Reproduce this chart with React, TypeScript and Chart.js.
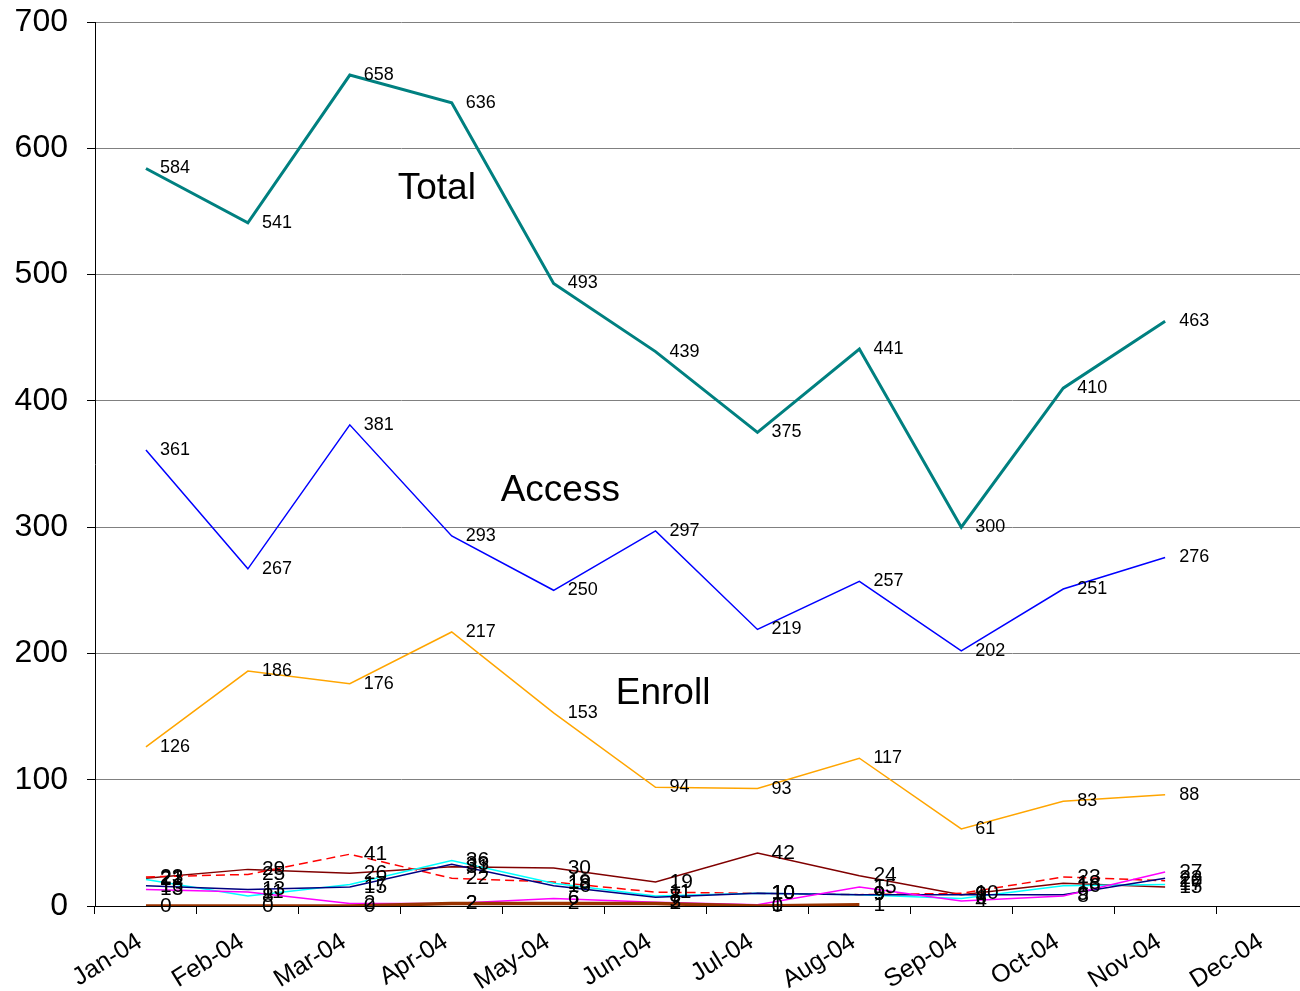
import React, { useEffect, useRef } from "react";
import { Chart, registerables } from "chart.js";

Chart.register(...registerables);

const months = ["Jan-04", "Feb-04", "Mar-04", "Apr-04", "May-04", "Jun-04", "Jul-04", "Aug-04", "Sep-04", "Oct-04", "Nov-04", "Dec-04"];

const totalValues = [584, 541, 658, 636, 493, 439, 375, 441, 300, 410, 463];
const accessValues = [361, 267, 381, 293, 250, 297, 219, 257, 202, 251, 276];
const enrollValues = [126, 186, 176, 217, 153, 94, 93, 117, 61, 83, 88];
const darkRedValues = [22, 29, 26, 31, 30, 19, 42, 24, 9, 18, 15];
const redDashValues = [23, 25, 41, 22, 19, 11, 10, 9, 10, 23, 20];
const cyanValues = [21, 8, 17, 36, 18, 8, 10, 9, 6, 16, 17];
const navyValues = [16, 13, 15, 33, 16, 7, 10, 9, 9, 9, 22];
const magentaValues = [13, 11, 2, 2, 6, 3, 1, 15, 4, 8, 27];
const brownValues = [0, 0, 0, 2, 2, 2, 0, 1];

const yTicks = [0, 100, 200, 300, 400, 500, 600, 700];

const annotationTexts = ["Total", "Access", "Enroll"];
const annotationX = [2.47, 3.48, 4.61];
const annotationY = [568, 329, 168];

const FONT = '"Liberation Sans", Arial, sans-serif';

export default function App() {
  const canvasRef = useRef<HTMLCanvasElement | null>(null);

  useEffect(() => {
    const canvas = canvasRef.current;
    if (!canvas) return;

    const labelSizes: number[] = [];

    const pointLabels = {
      id: "pointLabels",
      afterDatasetsDraw(chart: any) {
        const ctx = chart.ctx;
        chart.data.datasets.forEach((ds: any, i: number) => {
          const meta = chart.getDatasetMeta(i);
          ctx.save();
          ctx.font = `${labelSizes[i]}px ${FONT}`;
          ctx.fillStyle = "#000";
          ctx.textAlign = "left";
          ctx.textBaseline = "middle";
          meta.data.forEach((pt: any, j: number) => {
            const v = ds.data[j];
            if (v === null || v === undefined) return;
            ctx.fillText(String(v), pt.x + 14, pt.y);
          });
          ctx.restore();
        });
        const xs = chart.scales.x;
        const ys = chart.scales.y;
        ctx.save();
        ctx.font = `37px ${FONT}`;
        ctx.fillStyle = "#000";
        ctx.textAlign = "left";
        ctx.textBaseline = "middle";
        annotationTexts.forEach((t, k) => {
          ctx.fillText(t, xs.getPixelForValue(annotationX[k]), ys.getPixelForValue(annotationY[k]));
        });
        ctx.restore();
      },
    };

    const mk = (data: number[], color: string, width: number, size: number, dash?: number[]) => {
      labelSizes.push(size);
      return {
        data,
        borderColor: color,
        backgroundColor: color,
        borderWidth: width,
        borderDash: dash || [],
        pointRadius: 0,
        tension: 0,
        fill: false,
      };
    };

    const datasets = [
      mk(brownValues, "#993300", 3.5, 21),
      mk(magentaValues, "#FF00FF", 1.5, 21),
      mk(navyValues, "#000080", 1.5, 21),
      mk(cyanValues, "#00FFFF", 1.5, 21),
      mk(redDashValues, "#FF0000", 1.5, 21, [9, 5]),
      mk(darkRedValues, "#800000", 1.5, 21),
      mk(enrollValues, "#FFA500", 1.5, 18),
      mk(accessValues, "#0000FF", 1.5, 18),
      mk(totalValues, "#008080", 3, 18),
    ];

    const chart = new Chart(canvas, {
      type: "line",
      data: { labels: months, datasets: datasets as any },
      options: {
        responsive: false,
        animation: false,
        devicePixelRatio: 1,
        layout: { padding: { top: 22, right: 0, left: 0, bottom: 0 } },
        plugins: { legend: { display: false }, tooltip: { enabled: false }, title: { display: false } },
        scales: {
          x: {
            type: "category",
            offset: true,
            grid: { display: true, drawOnChartArea: false, offset: true, tickLength: 8, color: "#000", tickColor: "#000" },
            border: { display: true, color: "#000", width: 1 },
            ticks: {
              autoSkip: false,
              maxRotation: 32,
              minRotation: 32,
              padding: 13,
              labelOffset: -6,
              color: "#000",
              font: { family: FONT, size: 25 },
            },
            afterFit(scale: any) {
              scale.height = 85;
              scale.paddingLeft = 0;
              scale.paddingRight = 0;
            },
          },
          y: {
            min: 0,
            max: 700,
            afterBuildTicks(scale: any) {
              scale.ticks = yTicks.map((v) => ({ value: v }));
            },
            grid: { color: "#808080", tickLength: 8, tickColor: "#000", lineWidth: 1 },
            border: { display: true, color: "#000", width: 1 },
            ticks: {
              padding: 19,
              color: "#000",
              font: { family: FONT, size: 32 },
            },
            afterFit(scale: any) {
              scale.width = 95;
              scale.paddingTop = 0;
              scale.paddingBottom = 0;
            },
          },
        },
      },
      plugins: [pointLabels],
    });

    return () => chart.destroy();
  }, []);

  return (
    <div style={{ position: "absolute", left: 0, top: 0, width: 1300, height: 991, overflow: "hidden", background: "#fff" }}>
      <canvas ref={canvasRef} width={1318} height={991} style={{ display: "block" }} />
    </div>
  );
}
